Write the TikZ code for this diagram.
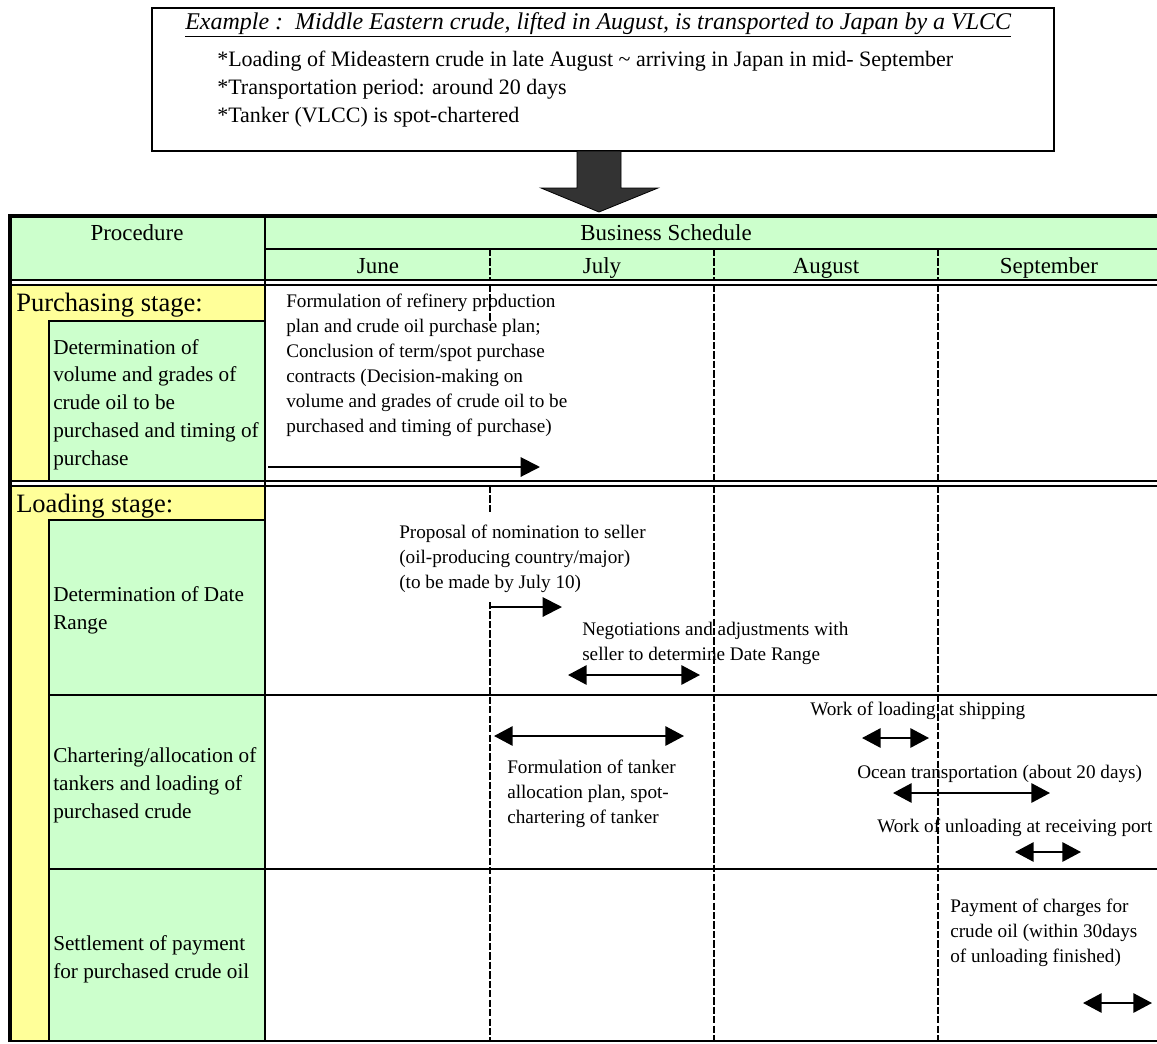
\documentclass[tikz,border=0pt]{standalone}
\usepackage{fontspec}
\setmainfont{Liberation Serif}
\usetikzlibrary{arrows.meta}
\definecolor{hdrgreen}{HTML}{CCFFCC}
\definecolor{stageyellow}{HTML}{FFFF99}
\definecolor{bigarrow}{HTML}{333333}

\begin{document}
\begin{tikzpicture}[x=0.75pt,y=-0.75pt,
  every node/.style={inner sep=0pt},
  % multi-line nodes are placed by the baseline of their last line
  boxtxt/.style={anchor=base west, align=left, font=\fontsize{16.5pt}{21pt}\selectfont},
  titletxt/.style={anchor=base west, font=\fontsize{18pt}{21pt}\selectfont},
  hdr/.style={anchor=base, font=\fontsize{17.2pt}{20pt}\selectfont},
  stagelbl/.style={anchor=base west, font=\fontsize{19.9pt}{24pt}\selectfont},
  proc/.style={anchor=base west, align=left, font=\fontsize{15.9pt}{20.8pt}\selectfont},
  sched/.style={anchor=base west, align=left, font=\fontsize{14.4pt}{18.75pt}\selectfont},
  rule/.style={line width=2.2pt},
  thinrule/.style={line width=1.5pt},
  frame/.style={line width=3pt},
  monthsep/.style={line width=2pt, dash pattern=on 5.5pt off 1.6pt},
  onearr/.style={line width=1.5pt, -{Triangle[length=14.5pt,width=14.5pt]}},
  twoarr/.style={line width=1.5pt, {Triangle[length=14pt,width=14.5pt]}-{Triangle[length=14pt,width=14.5pt]}}
]
\useasboundingbox (0,0) rectangle (1157,1043);

% ---------- example box ----------
\draw[line width=0.9pt] (152,8) rectangle (1054,151);
\node[titletxt] (title) at (185,29) {\underline{\textit{Example :\ \ Middle Eastern crude, lifted in August, is transported to Japan by a VLCC}}};
\node[boxtxt] (facts) at (217,122) {*Loading of Mideastern crude in late August \textasciitilde{} arriving in Japan in mid- September\\
*Transportation period: around 20 days\\
*Tanker (VLCC) is spot-chartered};

% ---------- down arrow ----------
\draw[fill=bigarrow, line width=0.6pt] (577,151) -- (621,151) -- (621,188) -- (658,188)
  -- (599,212) -- (541,188) -- (577,188) -- cycle;

% ---------- fills ----------
\fill[hdrgreen] (10,216) rectangle (1157,280);
\fill[stageyellow] (10,285) rectangle (265,481);
\fill[hdrgreen] (49,321) rectangle (265,481);
\fill[stageyellow] (10,486) rectangle (265,1041);
\fill[hdrgreen] (49,520) rectangle (265,1041);

% ---------- header texts ----------
\node[hdr] (proc) at (137,240) {Procedure};
\node[hdr] (bsched) at (666,240) {Business Schedule};
\node[hdr] (jun) at (378,273) {June};
\node[hdr] (jul) at (602,273) {July};
\node[hdr] (aug) at (826,273) {August};
\node[hdr] (sep) at (1049,273) {September};

% ---------- procedure column ----------
\node[stagelbl] (purch) at (16,311) {Purchasing stage:};
\node[proc] (pvol) at (53,465) {Determination of\\volume and grades of\\crude oil to be\\purchased and timing of\\purchase};
\node[stagelbl] (load) at (16,512) {Loading stage:};
\node[proc] (pdate) at (53,629) {Determination of Date\\Range};
\node[proc] (pchart) at (53,818) {Chartering/allocation of\\tankers and loading of\\purchased crude};
\node[proc] (psettle) at (53,978) {Settlement of payment\\for purchased crude oil};

% ---------- schedule texts ----------
\node[sched] (tplan) at (286,432) {Formulation of refinery production\\plan and crude oil purchase plan;\\Conclusion of term/spot purchase\\contracts (Decision-making on\\volume and grades of crude oil to be\\purchased and timing of purchase)};
\node[sched] (tnom) at (399,588) {Proposal of nomination to seller\\(oil-producing country/major)\\(to be made by July 10)};
\node[sched] (tneg) at (582,660) {Negotiations and adjustments with\\seller to determine Date Range};
\node[sched] (ttank) at (507,823) {Formulation of tanker\\allocation plan, spot-\\chartering of tanker};
\node[sched] (tload) at (810,715) {Work of loading at shipping};
\node[sched] (tocean) at (857,778) {Ocean transportation (about 20 days)};
\node[sched] (tunload) at (877,832) {Work of unloading at receiving port};
\node[sched] (tpay) at (950,962) {Payment of charges for\\crude oil (within 30days\\of unloading finished)};

% ---------- month separators ----------
\foreach \x in {490,714,938} \draw[monthsep] (\x,249) -- (\x,280);
\draw[monthsep] (490,285) -- (490,321);
\draw[monthsep] (490,486) -- (490,512);
\draw[monthsep] (490,602) -- (490,1041);
\foreach \x in {714,938} {
  \draw[monthsep] (\x,285) -- (\x,481);
  \draw[monthsep] (\x,486) -- (\x,1041);
}

% ---------- table rules ----------
\draw[rule] (265,249) -- (1157,249);
\draw[thinrule] (10,280) -- (1157,280);
\draw[thinrule] (10,285) -- (1157,285);
\draw[thinrule] (10,481) -- (1157,481);
\draw[thinrule] (10,486) -- (1157,486);
\draw[rule] (49,321) -- (265,321);
\draw[rule] (49,320) -- (49,481);
\draw[rule] (49,520) -- (265,520);
\draw[rule] (49,519) -- (49,1041);
\draw[rule] (49,695) -- (1157,695);
\draw[rule] (49,869) -- (1157,869);
\draw[rule] (265,216) -- (265,1041);
\draw[line width=1.5pt] (10,1041) -- (1157,1041);
\draw[frame] (10,1042) -- (10,216) -- (1157,216);

% ---------- schedule bars ----------
\coordinate (a1s) at (268,467);  \coordinate (a1e) at (540,467);
\coordinate (a2s) at (490,607);  \coordinate (a2e) at (562,607);
\coordinate (a3s) at (568,675);  \coordinate (a3e) at (700,675);
\coordinate (a4s) at (494,736);  \coordinate (a4e) at (684,736);
\coordinate (a5s) at (862,738);  \coordinate (a5e) at (929,738);
\coordinate (a6s) at (893,793);  \coordinate (a6e) at (1050,793);
\coordinate (a7s) at (1015,852); \coordinate (a7e) at (1081,852);
\coordinate (a8s) at (1083,1003); \coordinate (a8e) at (1152,1003);
\draw[onearr] (a1s) -- (a1e);
\draw[onearr] (a2s) -- (a2e);
\draw[twoarr] (a3s) -- (a3e);
\draw[twoarr] (a4s) -- (a4e);
\draw[twoarr] (a5s) -- (a5e);
\draw[twoarr] (a6s) -- (a6e);
\draw[twoarr] (a7s) -- (a7e);
\draw[twoarr] (a8s) -- (a8e);
\end{tikzpicture}
\end{document}
